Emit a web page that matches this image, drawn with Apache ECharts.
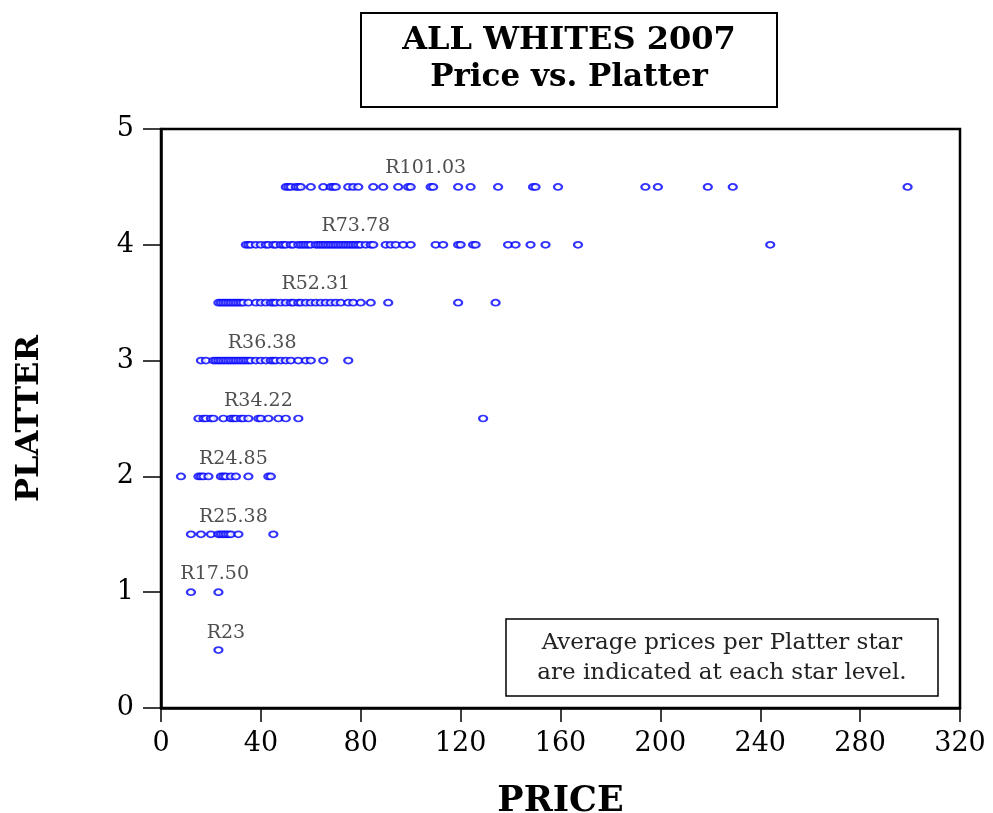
<!DOCTYPE html>
<html>
<head>
<meta charset="utf-8">
<script src="https://cdn.jsdelivr.net/npm/echarts@6/dist/echarts.min.js"></script>
<style>html,body{margin:0;padding:0;background:#fff}#c{width:993px;height:813px}</style>
</head>
<body>
<div id="c"></div>
<script>
// Prices per Platter star level
const p45 = [50, 51, 52, 54, 55, 56, 60, 65, 68, 69, 70, 75, 77, 79, 85, 89, 95, 99, 100, 108, 109, 119, 124, 135, 149, 150, 159, 194, 199, 219, 229, 299];
const p40 = [34, 35, 36, 38, 40, 42, 43, 45, 46, 48, 49, 50, 52, 53, 55, 56, 57, 58, 59, 60, 62, 63, 64, 65, 66, 67, 68, 69, 70, 71, 72, 73, 74, 75, 76, 77, 78, 79, 80, 82, 84, 85, 90, 92, 94, 97, 100, 110, 113, 119, 120, 125, 126, 139, 142, 148, 154, 167, 244];
const p35 = [23, 24, 25, 26, 27, 28, 29, 30, 31, 32, 33, 35, 38, 40, 42, 44, 45, 46, 48, 50, 52, 53, 55, 56, 58, 60, 62, 64, 66, 68, 70, 72, 75, 77, 80, 84, 91, 119, 134];
const p30 = [16, 18, 21, 22, 23, 24, 25, 26, 27, 28, 29, 30, 31, 32, 33, 34, 35, 36, 38, 40, 42, 44, 45, 46, 48, 50, 52, 55, 58, 60, 65, 75];
const p25 = [15, 17, 18, 20, 21, 25, 28, 29, 30, 32, 33, 35, 39, 40, 43, 47, 50, 55, 129];
const p20 = [8, 15, 16, 17, 19, 24, 25, 26, 28, 30, 35, 43, 44];
const p15 = [12, 16, 20, 23, 24, 25, 26, 27, 28, 31, 45];
const p10 = [12, 23];
const p05 = [23];
const levels = [4.5, 4.0, 3.5, 3.0, 2.5, 2.0, 1.5, 1.0, 0.5];
const priceLists = [p45, p40, p35, p30, p25, p20, p15, p10, p05];
// Average labels: [price position, platter position, text]
const avgLabels = [
  [106, 4.66, 'R101.03'],
  [78, 4.16, 'R73.78'],
  [62, 3.66, 'R52.31'],
  [40.5, 3.15, 'R36.38'],
  [39, 2.65, 'R34.22'],
  [29, 2.15, 'R24.85'],
  [29, 1.65, 'R25.38'],
  [21.5, 1.16, 'R17.50'],
  [26, 0.65, 'R23']
];
const xTicks = [0, 40, 80, 120, 160, 200, 240, 280, 320];
const yTicks = [0, 1, 2, 3, 4, 5];

const pts = [];
levels.forEach((lv, i) => priceLists[i].forEach(p => pts.push([p, lv])));

const serif = '"DejaVu Serif", "Liberation Serif", serif';
const chart = echarts.init(document.getElementById('c'));
chart.setOption({
  animation: false,
  backgroundColor: '#fff',
  grid: { left: 161, right: 33, top: 129, bottom: 105, outerBoundsMode: 'none', containLabel: false, show: true, borderColor: '#000', borderWidth: 2.5, backgroundColor: 'transparent' },
  xAxis: {
    type: 'value', min: xTicks[0], max: xTicks[xTicks.length - 1], interval: 40,
    name: 'PRICE', nameLocation: 'middle', nameGap: 76,
    nameTextStyle: { fontFamily: serif, fontWeight: 'bold', fontSize: 35, color: '#000' },
    axisLine: { show: true, lineStyle: { color: '#000', width: 2.5 } },
    axisTick: { show: true, length: 14, lineStyle: { color: '#000', width: 1.5 } },
    axisLabel: { fontFamily: serif, fontSize: 27, color: '#000', margin: 22 },
    splitLine: { show: false }
  },
  yAxis: {
    type: 'value', min: yTicks[0], max: yTicks[yTicks.length - 1], interval: 1,
    name: 'PLATTER', nameLocation: 'middle', nameGap: 115, nameRotate: 90,
    nameTextStyle: { fontFamily: serif, fontWeight: 'bold', fontSize: 32, color: '#000' },
    axisLine: { show: true, lineStyle: { color: '#000', width: 2.5 } },
    axisTick: { show: true, length: 18, lineStyle: { color: '#000', width: 1.5 } },
    axisLabel: { fontFamily: serif, fontSize: 27, color: '#000', margin: 27 },
    splitLine: { show: false }
  },
  series: [
    {
      type: 'scatter', data: pts, symbol: 'emptyCircle', symbolSize: [8, 6],
      itemStyle: { color: '#0000ff', borderColor: '#0000ff', borderWidth: 1.7 },
      emphasis: { disabled: true }
    },
    {
      type: 'scatter', symbolSize: 0, silent: true,
      data: avgLabels.map(a => ({ value: [a[0], a[1]], name: a[2] })),
      label: { show: true, position: 'inside', formatter: p => p.name, fontFamily: serif, fontSize: 19, color: '#222' }
    }
  ],
  graphic: [
    { type: 'rect', shape: { x: 361, y: 13, width: 416, height: 94 }, style: { fill: '#fff', stroke: '#000', lineWidth: 2 } },
    { type: 'text', x: 569, y: 41, style: { text: 'ALL WHITES 2007', fontFamily: serif, fontWeight: 'bold', fontSize: 32, fill: '#000', textAlign: 'center', textVerticalAlign: 'middle' } },
    { type: 'text', x: 569, y: 78, style: { text: 'Price vs. Platter', fontFamily: serif, fontWeight: 'bold', fontSize: 31, fill: '#000', textAlign: 'center', textVerticalAlign: 'middle' } },
    { type: 'rect', shape: { x: 506, y: 619, width: 432, height: 77 }, style: { fill: '#fff', stroke: '#000', lineWidth: 1.5 } },
    { type: 'text', x: 722, y: 643, style: { text: 'Average prices per Platter star', fontFamily: serif, fontSize: 23, fill: '#222', textAlign: 'center', textVerticalAlign: 'middle' } },
    { type: 'text', x: 722, y: 673, style: { text: 'are indicated at each star level.', fontFamily: serif, fontSize: 23, fill: '#222', textAlign: 'center', textVerticalAlign: 'middle' } }
  ]
});
</script>
</body>
</html>
